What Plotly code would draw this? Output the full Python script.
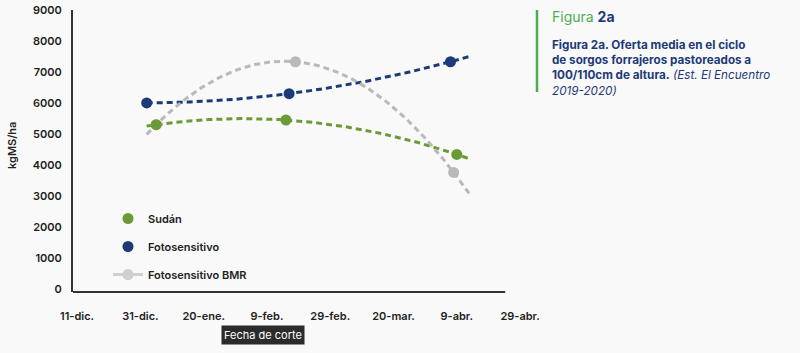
import numpy as np
import pandas as pd
import plotly.graph_objects as go

# ---- data ----
sudan_dates = ["2020-01-05", "2020-02-15", "2020-04-09"]
sudan_vals = [5300, 5450, 4340]
foto_dates = ["2020-01-02", "2020-02-16", "2020-04-07"]
foto_vals = [6000, 6300, 7330]
bmr_dates = ["2020-01-05", "2020-02-18", "2020-04-08"]
bmr_vals = [5300, 7330, 3760]

trend_start = "2020-01-02"
trend_end = "2020-04-13"

tick_dates = ["2019-12-11", "2019-12-31", "2020-01-20", "2020-02-09",
              "2020-02-29", "2020-03-20", "2020-04-09", "2020-04-29"]
tick_labels = ["11-dic.", "31-dic.", "20-ene.", "9-feb.",
               "29-feb.", "20-mar.", "9-abr.", "29-abr."]
y_ticks = [0, 1000, 2000, 3000, 4000, 5000, 6000, 7000, 8000, 9000]

GREEN = "#6b9b37"
BLUE = "#1d3a78"
GRAY = "#b9b9b9"
FONT = "Inter"

series = [
    ("Sudán", sudan_dates, sudan_vals, GREEN),
    ("Fotosensitivo", foto_dates, foto_vals, BLUE),
    ("Fotosensitivo BMR", bmr_dates, bmr_vals, GRAY),
]

origin = pd.Timestamp("2019-12-01")
fig = go.Figure()

# polynomial (order 2) trendlines, dashed
for name, d, v, c in series:
    t = (pd.to_datetime(d) - origin).days.values.astype(float)
    coef = np.polyfit(t, v, 2)
    t0 = (pd.Timestamp(trend_start) - origin).days
    t1 = (pd.Timestamp(trend_end) - origin).days
    tt = np.linspace(t0, t1, 120)
    fig.add_trace(go.Scatter(
        x=origin + pd.to_timedelta(tt, unit="D"), y=np.polyval(coef, tt),
        mode="lines", line=dict(color=c, width=3, dash="6px,4px"),
        showlegend=False, hoverinfo="skip"))

# points (drawn after lines)
for name, d, v, c in [series[2], series[1], series[0]]:
    fig.add_trace(go.Scatter(
        x=d, y=v, mode="markers", marker=dict(color=c, size=11),
        showlegend=False, name=name))

# legend entries
for i, (name, d, v, c) in enumerate(series):
    mode = "lines+markers" if name == "Fotosensitivo BMR" else "markers"
    fig.add_trace(go.Scatter(
        x=[None], y=[None], mode=mode, name=name, legendgroup=f"g{i}",
        marker=dict(color=c if i < 2 else "#cfcfcf", size=11),
        line=dict(color="#cfcfcf", width=3)))

PT, PB = 10, 292  # plot top / bottom in px
PH = PB - PT
PL, PR = 73, 540
PW = PR - PL


def py(px):
    return (PB - px) / PH


def pxp(px):
    return (px - PL) / PW


fig.update_layout(
    width=800, height=353,
    margin=dict(l=PL, r=800 - PR, t=PT, b=353 - PB, autoexpand=False),
    paper_bgcolor="#f9f9f9", plot_bgcolor="#f9f9f9",
    font=dict(family=FONT, color="#222222"),
    showlegend=True,
    legend=dict(x=pxp(108), y=py(204), xanchor="left", yanchor="top",
                bgcolor="rgba(0,0,0,0)", tracegroupgap=9,
                font=dict(size=11, color="#222222", weight=600)),
    xaxis=dict(type="date", range=["2019-12-09 17:00", "2020-05-05 07:00"],
               tickvals=tick_dates, ticktext=tick_labels, automargin=False,
               showgrid=False, zeroline=False, showline=False, ticks="",
               tickfont=dict(size=11, color="#222222", weight=600),
               ticklabelstandoff=16),
    yaxis=dict(range=[-100, 9000], tickvals=y_ticks, automargin=False,
               showgrid=False, zeroline=False, showline=True,
               linecolor="#333333", linewidth=2, ticks="",
               tickfont=dict(size=11, color="#222222", weight=600),
               ticklabelstandoff=7),
)

# y axis title
fig.add_annotation(text="kgMS/ha", xref="paper", yref="paper",
                   x=pxp(12), y=py(146), textangle=-90, showarrow=False,
                   xanchor="center", yanchor="middle",
                   font=dict(size=11, color="#222222", weight=600))

# bottom axis line
fig.add_shape(type="line", xref="x", yref="paper",
              x0="2019-12-09 17:00", x1="2020-04-24 07:00", y0=0, y1=0,
              line=dict(color="#333333", width=2))

# x axis title box
fig.add_annotation(text="Fecha de corte", xref="paper", yref="paper",
                   x=pxp(263), y=py(334.5), xanchor="center", yanchor="middle",
                   showarrow=False,
                   font=dict(size=11, color="white", family=FONT),
                   bgcolor="#2b2b2b", borderpad=2)

# right-hand caption
fig.add_shape(type="line", xref="paper", yref="paper",
              x0=pxp(537), x1=pxp(537), y0=py(10), y1=py(92),
              line=dict(color="#4cae4f", width=2.5))
fig.add_annotation(
    text="<span style='color:#4cae4f'>Figura</span> <b style='color:#1d3a78'>2a</b>",
    xref="paper", yref="paper", x=pxp(550), y=py(16),
    xanchor="left", yanchor="middle", showarrow=False, align="left",
    font=dict(size=14, family=FONT))
fig.add_annotation(
    text="<b>Figura 2a. Oferta media en el ciclo</b><br>"
         "<b>de sorgos forrajeros pastoreados a</b><br>"
         "<b>100/110cm de altura.</b> <i>(Est. El Encuentro</i><br>"
         "<i>2019-2020)</i>",
    xref="paper", yref="paper", x=pxp(550), y=py(68),
    xanchor="left", yanchor="middle", showarrow=False, align="left",
    font=dict(size=11.7, color="#1d3a78", family=FONT))

fig.write_html("out.html")
